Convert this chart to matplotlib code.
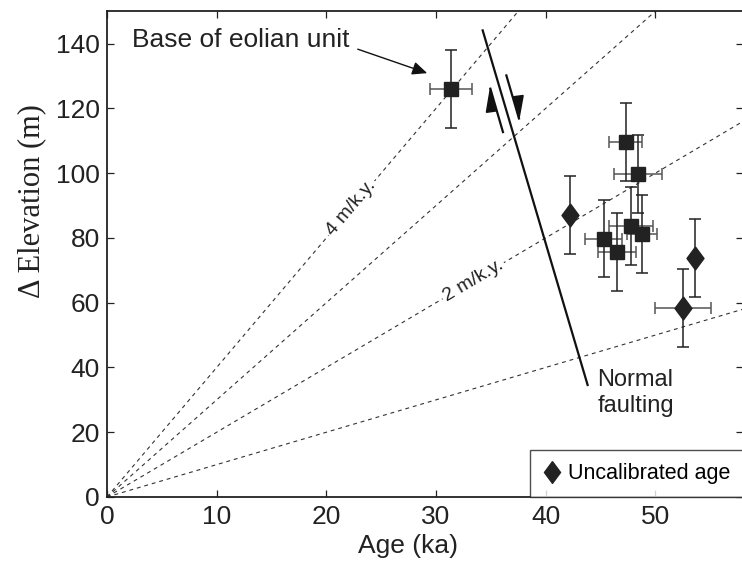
import matplotlib
matplotlib.use("Agg")
import matplotlib.pyplot as plt
from matplotlib.patches import Polygon
import numpy as np

# ---- data ----
sq_age = [31.4, 47.3, 48.4, 45.3, 46.5, 47.8, 48.8]
sq_elev = [126.0, 109.7, 99.7, 79.8, 75.7, 83.7, 81.3]
sq_age_err = [1.9, 1.5, 2.2, 1.7, 1.7, 2.0, 1.4]
sq_elev_err = [12, 12, 12, 12, 12, 12, 12]

dia_age = [42.2, 52.5, 53.6]
dia_elev = [87.2, 58.4, 73.9]
dia_age_err = [0.0, 2.55, 0.0]
dia_elev_err = [12, 12, 12]

rates = [1, 2, 3, 4]  # m/k.y.
rate_labels = {4: ("4 m/k.y.", 22.3), 2: ("2 m/k.y.", 33.4)}

x_ticks = [0, 10, 20, 30, 40, 50]
y_ticks = [0, 20, 40, 60, 80, 100, 120, 140]

W, H = 742, 567
fig = plt.figure(figsize=(W / 100, H / 100), dpi=100)
ax = fig.add_axes([107 / W, (H - 497) / H, 636 / W, (497 - 11.3) / H])
ax.set_xlim(0, 58)
ax.set_ylim(0, 150)

sans = "Liberation Sans"
dark = "#222222"
grey = "#555555"

# rate lines
xx = np.array([0, 58])
for r in rates:
    ax.plot(xx, r * xx, ls=(0, (3.5, 3.5)), lw=0.8, color="#333333", zorder=1)

# rate labels rotated along lines
def disp_angle(slope):
    p1 = ax.transData.transform((0, 0))
    p2 = ax.transData.transform((10, 10 * slope))
    return np.degrees(np.arctan2(p2[1] - p1[1], p2[0] - p1[0]))

for r, (txt, xpos) in rate_labels.items():
    ax.text(xpos, r * xpos, txt, rotation=disp_angle(r), rotation_mode="anchor",
            ha="center", va="center", fontsize=14, family=sans, color=dark,
            bbox=dict(facecolor="white", edgecolor="none", pad=1.5), zorder=2)

# error bars
ax.errorbar(sq_age, sq_elev, xerr=sq_age_err, fmt="none", ecolor=grey,
            elinewidth=1.1, capsize=4, capthick=1.1, zorder=3)
ax.errorbar(sq_age, sq_elev, yerr=sq_elev_err, fmt="none", ecolor=dark,
            elinewidth=1.1, capsize=4, capthick=1.1, zorder=3)
ax.errorbar(dia_age, dia_elev, xerr=dia_age_err, fmt="none", ecolor=grey,
            elinewidth=1.1, capsize=4, capthick=1.1, zorder=3)
ax.errorbar(dia_age, dia_elev, yerr=dia_elev_err, fmt="none", ecolor=dark,
            elinewidth=1.1, capsize=4, capthick=1.1, zorder=3)

diamond = [(0, 1), (0.74, 0), (0, -1), (-0.74, 0), (0, 1)]
ax.plot(sq_age, sq_elev, ls="none", marker="s", ms=10, color=dark, zorder=4)
ax.plot(dia_age, dia_elev, ls="none", marker=diamond, ms=16.5, color=dark,
        zorder=4, label="Uncalibrated age")

# fault line and harpoons
ax.plot([34.26, 43.83], [144.1, 34.6], color="#111111", lw=1.6, zorder=2)
ax.plot([36.42, 37.57], [130.2, 116.9], color="#111111", lw=1.6, zorder=2)
ax.add_patch(Polygon([(37.57, 116.9), (37.05, 123.6), (37.95, 124.0)],
                     closed=True, color="#111111", zorder=2))
ax.plot([36.11, 34.96], [112.7, 126.1], color="#111111", lw=1.6, zorder=2)
ax.add_patch(Polygon([(34.96, 126.1), (35.45, 119.2), (34.60, 118.8)],
                     closed=True, color="#111111", zorder=2))

# annotations
ax.text(2.28, 141.2, "Base of eolian unit", fontsize=19, family=sans,
        color=dark, ha="left", va="center")
ax.annotate("", xy=(29.2, 130.9), xytext=(22.87, 138.3),
            arrowprops=dict(arrowstyle="-|>,head_length=0.9,head_width=0.4",
                            color="#111111", lw=1.0, shrinkA=0, shrinkB=0))
ax.text(44.74, 39.5, "Normal\nfaulting", fontsize=17, family=sans, color=dark,
        ha="left", va="top", linespacing=1.25)

# legend
leg = ax.legend(loc="lower right", bbox_to_anchor=(1.0, 0.0), frameon=True,
                fancybox=False, prop=dict(family=sans, size=15.5),
                handlelength=0.8, handletextpad=0.35, borderpad=0.6,
                borderaxespad=0.0, markerscale=0.95)
leg.get_frame().set_edgecolor("#222222")
leg.get_frame().set_linewidth(1.0)

# axes styling
ax.set_xticks(x_ticks)
ax.set_yticks(y_ticks)
ax.tick_params(direction="in", top=True, right=True, length=5, width=0.9,
               labelsize=19, colors=dark)
ax.tick_params(axis="x", pad=6)
ax.tick_params(axis="y", pad=5)
for lab in ax.get_xticklabels() + ax.get_yticklabels():
    lab.set_family(sans)
for s in ax.spines.values():
    s.set_linewidth(1.3)
    s.set_color("#222222")

ax.set_xlabel("Age (ka)", fontsize=19, family=sans, color=dark)
ax.xaxis.set_label_coords(0.473, -0.076)
ax.set_ylabel("\u0394 Elevation (m)", fontsize=22, family="Liberation Serif",
              color=dark)
ax.yaxis.set_label_coords(-0.095, 0.609)

fig.savefig("out.png", dpi=100)
